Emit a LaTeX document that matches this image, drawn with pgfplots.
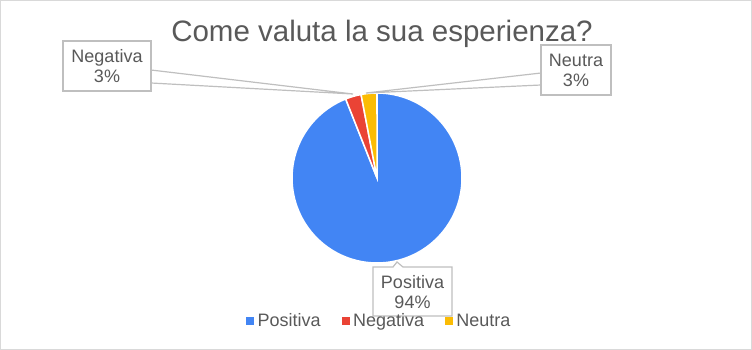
\documentclass[border=0pt]{standalone}
\usepackage{pgfplots}
\usepackage{pgfplotstable}
\pgfplotsset{compat=1.18}
\usepackage{fontspec}
\setmainfont{Liberation Sans}
\definecolor{cPos}{HTML}{4285F4}
\definecolor{cNeg}{HTML}{EA4335}
\definecolor{cNeu}{HTML}{FBBC04}
\definecolor{txt}{HTML}{595959}
\definecolor{lbl}{HTML}{BFBFBF}
\definecolor{frame}{HTML}{D9D9D9}

\pgfplotstableread{
label value
Positiva 94
Negativa 3
Neutra 3
}\piedata
\pgfplotstablegetelem{0}{value}\of\piedata \let\vA\pgfplotsretval
\pgfplotstablegetelem{1}{value}\of\piedata \let\vB\pgfplotsretval
\pgfplotstablegetelem{2}{value}\of\piedata \let\vC\pgfplotsretval
\pgfmathsetmacro\tot{\vA+\vB+\vC}
\pgfmathsetmacro\aA{360*(\vA/\tot)}
\pgfmathsetmacro\aB{\aA+360*(\vB/\tot)}
\pgfmathsetmacro\aC{\aB+360*(\vC/\tot)}

\begin{document}
\begin{tikzpicture}
\begin{axis}[
  width=752pt, height=350pt, scale only axis,
  xmin=0, xmax=752, ymin=0, ymax=350, y dir=reverse,
  axis lines=none, clip=false,
  legend columns=3,
  legend style={draw=none, fill=none, at={(axis cs:243,321)}, anchor=west,
    font=\fontsize{18}{20}\selectfont, text=txt,
    /tikz/every odd column/.append style={column sep=2pt},
    /tikz/every even column/.append style={column sep=19pt},
    cells={anchor=west}},
]
% frame
\draw[frame, line width=1pt] (axis cs:0.5,0.5) rectangle (axis cs:751.5,349.5);
% title
\node[text=txt, font=\fontsize{29.5}{32}\selectfont, anchor=base] at (axis cs:382,42) {Come valuta la sua esperienza?};

% pie wedges
\addplot[forget plot, draw=white, line width=1.5pt, fill=cPos, domain=0:\aA, samples=120, variable=\t]
  ({377+85*sin(t)}, {178-85*cos(t)}) -- (axis cs:377,178) -- cycle;
\addplot[forget plot, draw=white, line width=1.5pt, fill=cNeg, domain=\aA:\aB, samples=10, variable=\t]
  ({377+85*sin(t)}, {178-85*cos(t)}) -- (axis cs:377,178) -- cycle;
\addplot[forget plot, draw=white, line width=1.5pt, fill=cNeu, domain=\aB:\aC, samples=10, variable=\t]
  ({377+85*sin(t)}, {178-85*cos(t)}) -- (axis cs:377,178) -- cycle;

% callout Negativa
\filldraw[draw=lbl, fill=white, line width=1.2pt] (axis cs:151,70) -- (axis cs:353,94) -- (axis cs:151,83);
\filldraw[draw=lbl, fill=white, line width=1.2pt] (axis cs:63,41) rectangle (axis cs:151,91);
\node[text=txt, font=\fontsize{18}{20}\selectfont, anchor=base] at (axis cs:107,63) {Negativa};
\node[text=txt, font=\fontsize{18}{20}\selectfont, anchor=base] at (axis cs:107,83) {3\%};
% callout Neutra
\filldraw[draw=lbl, fill=white, line width=1.2pt] (axis cs:541,73) -- (axis cs:366,93) -- (axis cs:541,85);
\filldraw[draw=lbl, fill=white, line width=1.2pt] (axis cs:541,45) rectangle (axis cs:611,95);
\node[text=txt, font=\fontsize{18}{20}\selectfont, anchor=base] at (axis cs:576,67) {Neutra};
\node[text=txt, font=\fontsize{18}{20}\selectfont, anchor=base] at (axis cs:576,87) {3\%};
% callout Positiva
\filldraw[draw=lbl, fill=white, line width=1.2pt] (axis cs:373,267) -- (axis cs:393,267) -- (axis cs:397,262) -- (axis cs:403,267) -- (axis cs:452,267) -- (axis cs:452,316) -- (axis cs:373,316) -- cycle;
\node[text=txt, font=\fontsize{18}{20}\selectfont, anchor=base] at (axis cs:412.5,288) {Positiva};
\node[text=txt, font=\fontsize{18}{20}\selectfont, anchor=base] at (axis cs:412.5,308) {94\%};

% legend
\addlegendimage{legend image code/.code={\fill[cPos] (0pt,-3.5pt) rectangle (7pt,3.5pt);}}
\addlegendentry{Positiva}
\addlegendimage{legend image code/.code={\fill[cNeg] (0pt,-3.5pt) rectangle (7pt,3.5pt);}}
\addlegendentry{Negativa}
\addlegendimage{legend image code/.code={\fill[cNeu] (0pt,-3.5pt) rectangle (7pt,3.5pt);}}
\addlegendentry{Neutra}
\end{axis}
\end{tikzpicture}
\end{document}
